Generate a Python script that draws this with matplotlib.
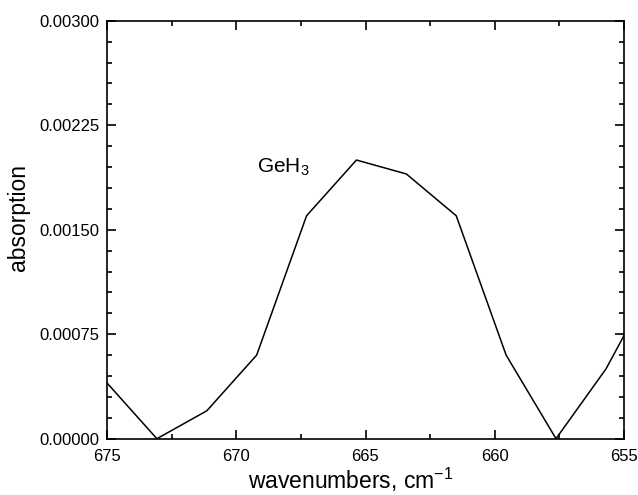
import matplotlib
matplotlib.use('Agg')
import matplotlib.pyplot as plt
from matplotlib.ticker import MultipleLocator, FormatStrFormatter

plt.rcParams['font.family'] = 'Liberation Sans'
plt.rcParams['mathtext.fontset'] = 'custom'
plt.rcParams['mathtext.rm'] = 'Liberation Sans'
plt.rcParams['mathtext.it'] = 'Liberation Sans'
plt.rcParams['mathtext.default'] = 'rm'

# GeH3 band, absorption vs wavenumber
wavenumber = [675.0, 673.07, 671.14, 669.21, 667.28, 665.35, 663.42, 661.49, 659.56, 657.63, 655.7, 655.0]
absorption = [0.0004, 0.0, 0.0002, 0.0006, 0.0016, 0.0020, 0.0019, 0.0016, 0.0006, 0.0, 0.0005, 0.00074]

fig = plt.figure(figsize=(6.38, 4.95), dpi=100)
ax = fig.add_axes([107/638, 1 - 438.7/495, (624-107)/638, (438.7-20.7)/495])

ax.plot(wavenumber, absorption, color='black', linewidth=1.1)

ax.set_xlim(675, 655)
ax.set_ylim(0, 0.003)
ax.xaxis.set_major_locator(MultipleLocator(5))
ax.xaxis.set_minor_locator(MultipleLocator(2.5))
ax.yaxis.set_major_locator(MultipleLocator(0.00075))
ax.yaxis.set_minor_locator(MultipleLocator(0.00015))
ax.yaxis.set_major_formatter(FormatStrFormatter('%.5f'))

ax.tick_params(which='both', direction='in', top=True, right=True, labelsize=12, width=1.2)
ax.tick_params(which='major', length=6.5)
ax.tick_params(which='minor', length=3.5)
ax.tick_params(axis='x', which='major', pad=7.5)
ax.tick_params(axis='y', which='major', pad=5.5)
for s in ax.spines.values():
    s.set_linewidth(1.2)

ax.set_xlabel('wavenumbers, cm$^{-1}$', fontsize=16.5, va='center')
ax.xaxis.set_label_coords(0.472, -0.099)
ax.set_ylabel('absorption', fontsize=16.5, va='center', ha='center')
ax.yaxis.set_label_coords(-0.171, 0.528)

ax.text(669.2, 0.00195, 'GeH$_3$', fontsize=15, ha='left', va='center')

fig.savefig('out.png', dpi=100)
